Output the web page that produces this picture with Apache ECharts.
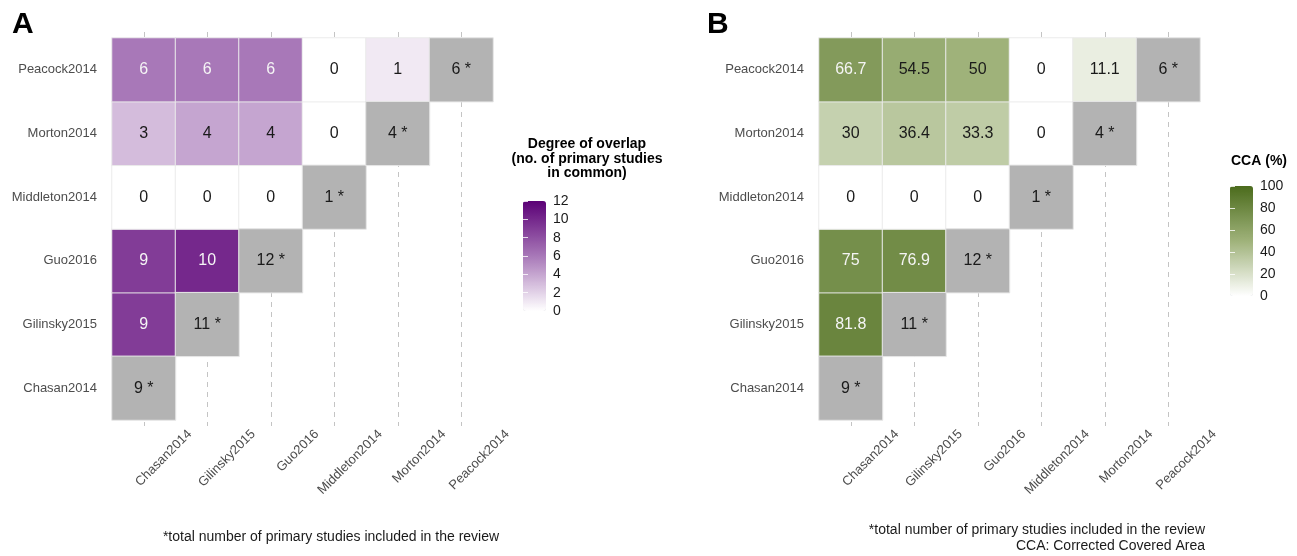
<!DOCTYPE html>
<html>
<head>
<meta charset="utf-8">
<script src="https://cdn.jsdelivr.net/npm/echarts@6/dist/echarts.min.js"></script>
<style>
  html, body { margin: 0; padding: 0; background: #fff; }
  #chart { width: 1297px; height: 556px; }
</style>
</head>
<body>
<div id="chart"></div>
<script>
// reviews, same order on both axes (x left->right, y bottom->top)
const studies = ['Chasan2014', 'Gilinsky2015', 'Guo2016', 'Middleton2014', 'Morton2014', 'Peacock2014']
// total primary studies per review (diagonal)
const totals = [9, 11, 12, 1, 4, 6]
// lower triangle, one row per y category, columns from Chasan2014 on
const overlapCounts = [
  [],
  [9],
  [9, 10],
  [0, 0, 0],
  [3, 4, 4, 0],
  [6, 6, 6, 0, 1]
]
const ccaPercent = [
  [],
  [81.8],
  [75, 76.9],
  [0, 0, 0],
  [30, 36.4, 33.3, 0],
  [66.7, 54.5, 50, 0, 11.1]
]
const countTicks = { min: 0, max: 12, interval: 2 }
const ccaTicks = { min: 0, max: 100, interval: 20 }

const FONT = '"Liberation Sans", Arial, sans-serif'
const CELL_W = 63.5
const GRID_W = CELL_W * 6
const GRID_TOP = 38
const GRID_H = 382

function cells (rows, darkFrom) {
  const out = []
  rows.forEach((row, y) => {
    row.forEach((v, x) => {
      out.push({
        value: [x, y, v],
        label: { color: v >= darkFrom ? '#f5f5f5' : '#1a1a1a' }
      })
    })
  })
  return out
}

function diagCells () {
  return totals.map((t, i) => [i, i, t])
}

// builds grids/axes/series for one panel
function panel (left, rows, darkFrom, gi) {
  const grids = [
    { left: left, top: GRID_TOP, width: GRID_W, height: GRID_H },
    { left: left + CELL_W / 2, top: GRID_TOP - 6, width: GRID_W - CELL_W, height: GRID_H + 12 },
    { left: left + 46, top: GRID_TOP, width: GRID_W, height: GRID_H }
  ]
  const xAxes = [
    { gridIndex: gi, type: 'category', data: studies, show: false },
    {
      gridIndex: gi + 1, type: 'category', data: studies, boundaryGap: false,
      axisLine: { show: false }, axisTick: { show: false }, axisLabel: { show: false, interval: 0 },
      splitLine: { show: true, interval: 0, lineStyle: { color: '#c4c4c4', width: 1, type: [5, 5] } }
    },
    {
      gridIndex: gi + 2, type: 'category', data: studies,
      axisLine: { show: false }, axisTick: { show: false }, splitLine: { show: false },
      axisLabel: { interval: 0, rotate: 45, margin: 12, fontSize: 13, color: '#4d4d4d', fontFamily: FONT }
    }
  ]
  const yAxes = [
    {
      gridIndex: gi, type: 'category', data: studies,
      axisLine: { show: false }, axisTick: { show: false }, splitLine: { show: false },
      axisLabel: { interval: 0, margin: 15, fontSize: 13, color: '#4d4d4d', fontFamily: FONT }
    },
    { gridIndex: gi + 1, type: 'value', show: false },
    { gridIndex: gi + 2, type: 'category', data: studies, show: false }
  ]
  const series = [
    {
      type: 'heatmap', xAxisIndex: gi, yAxisIndex: gi,
      data: cells(rows, darkFrom),
      itemStyle: { borderColor: '#ebebeb', borderWidth: 1 },
      label: { show: true, fontSize: 16, fontFamily: FONT, formatter: p => String(p.value[2]) },
      emphasis: { disabled: true }
    },
    {
      type: 'heatmap', xAxisIndex: gi, yAxisIndex: gi,
      data: diagCells(),
      itemStyle: { color: '#b3b3b3', borderColor: '#e6e6e6', borderWidth: 1 },
      label: { show: true, fontSize: 16, fontFamily: FONT, color: '#1a1a1a', formatter: p => p.value[2] + ' *' },
      emphasis: { disabled: true }
    }
  ]
  return { grids, xAxes, yAxes, series }
}

// colour bar tick labels drawn on a value axis beside the visualMap bar
function legendAxis (left, top, ticks, gi) {
  const tick = { show: true, inside: true, length: 5, lineStyle: { color: 'rgba(255,255,255,0.8)' } }
  return {
    grid: { left: left, top: top, width: 23, height: 110 },
    xAxis: { gridIndex: gi, type: 'value', show: false },
    yAxis: [
      {
        gridIndex: gi, type: 'value', position: 'right', z: 10,
        min: ticks.min, max: ticks.max, interval: ticks.interval,
        axisLine: { show: false }, splitLine: { show: false }, axisTick: tick,
        axisLabel: { margin: 7, fontSize: 14, color: '#1a1a1a', fontFamily: FONT }
      },
      {
        gridIndex: gi, type: 'value', position: 'left', z: 10,
        min: ticks.min, max: ticks.max, interval: ticks.interval,
        axisLine: { show: false }, splitLine: { show: false }, axisLabel: { show: false },
        axisTick: tick
      }
    ]
  }
}

const pA = panel(112, overlapCounts, 6, 0)
const pB = panel(819, ccaPercent, 60, 3)
const lA = legendAxis(523, 201, countTicks, 6)
const lB = legendAxis(1230, 186, ccaTicks, 7)

const chart = echarts.init(document.getElementById('chart'))
chart.setOption({
  animation: false,
  backgroundColor: '#ffffff',
  grid: [...pA.grids, ...pB.grids, lA.grid, lB.grid],
  xAxis: [...pA.xAxes, ...pB.xAxes, lA.xAxis, lB.xAxis],
  yAxis: [...pA.yAxes, ...pB.yAxes, ...lA.yAxis, ...lB.yAxis],
  visualMap: [
    {
      type: 'continuous', seriesIndex: 0, dimension: 2,
      min: countTicks.min, max: countTicks.max, calculable: false,
      left: 523, top: 201, itemWidth: 23, itemHeight: 110, padding: 0,
      inRange: { color: ['#ffffff', '#a878b8', '#5b0076'] }
    },
    {
      type: 'continuous', seriesIndex: 2, dimension: 2,
      min: ccaTicks.min, max: ccaTicks.max, calculable: false,
      left: 1230, top: 186, itemWidth: 23, itemHeight: 110, padding: 0,
      inRange: { color: ['#ffffff', '#9fb27a', '#4b6b1c'] }
    }
  ],
  series: [...pA.series, ...pB.series],
  graphic: [
    { type: 'text', left: 12, top: 10, style: { text: 'A', font: 'bold 30px ' + FONT, fill: '#000' } },
    { type: 'text', left: 707, top: 10, style: { text: 'B', font: 'bold 30px ' + FONT, fill: '#000' } },
    {
      type: 'text', x: 587, y: 137,
      style: {
        text: 'Degree of overlap\n(no. of primary studies\nin common)',
        font: 'bold 14px ' + FONT, fill: '#000', align: 'center', lineHeight: 14.5
      }
    },
    { type: 'text', x: 1231, y: 154, style: { text: 'CCA (%)', font: 'bold 14px ' + FONT, fill: '#000' } },
    {
      type: 'text', x: 331, y: 530,
      style: { text: '*total number of primary studies included in the review', font: '14px ' + FONT, fill: '#1a1a1a', align: 'center' }
    },
    {
      type: 'text', x: 1205, y: 522,
      style: {
        text: '*total number of primary studies included in the review\nCCA: Corrected Covered Area',
        font: '14px ' + FONT, fill: '#1a1a1a', align: 'right', lineHeight: 16
      }
    }
  ]
})
</script>
</body>
</html>
